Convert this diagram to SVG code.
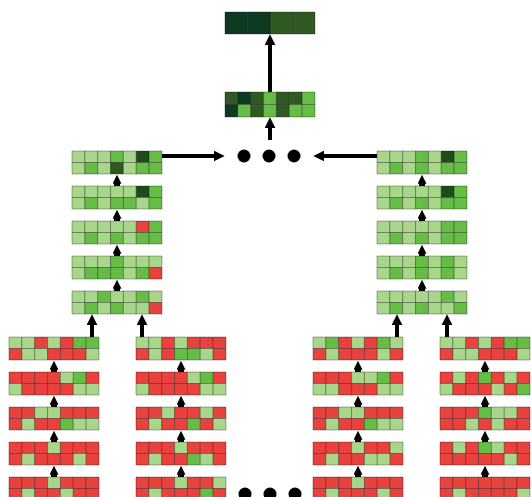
<svg xmlns="http://www.w3.org/2000/svg" width="531" height="497" viewBox="0 0 531 497">
<style>
.blk rect{width:1px;height:1px;stroke:#000;stroke-opacity:.3;stroke-width:1;vector-effect:non-scaling-stroke}
.L{fill:#a8d68a}.M{fill:#66bd46}.R{fill:#e8413e}.D{fill:#1e4a1c}.E{fill:#2c5a1e}.K{fill:#0d3b21}.O{fill:#2f5a22}
.con line{stroke:#000;fill:none}
.big{stroke-width:4}
.stub{stroke-width:6}
</style>
<defs>
<marker id="a" viewBox="0 0 10 10" refX="3" refY="5" markerWidth="11" markerHeight="11" markerUnits="userSpaceOnUse" orient="auto"><path d="M0,0L10,5L0,10z"/></marker>
<marker id="s" viewBox="0 0 10 10" refX="3" refY="5" markerWidth="9" markerHeight="9" markerUnits="userSpaceOnUse" orient="auto"><path d="M0,0L10,5L0,10z"/></marker>
</defs>
<rect width="531" height="497" fill="#fff"/>

<g id="out" class="blk" transform="translate(225 12) scale(22.5 22)">
<rect class="K" x="0" y="0"/><rect class="K" x="1" y="0"/><rect class="O" x="2" y="0"/><rect class="O" x="3" y="0"/>
</g>
<g id="agg" class="blk" transform="translate(225 92) scale(12.857 12.5)">
<rect class="O" x="0" y="0"/><rect class="K" x="1" y="0"/><rect class="O" x="2" y="0"/><rect class="M" x="3" y="0"/><rect class="O" x="4" y="0"/><rect class="O" x="5" y="0"/><rect class="M" x="6" y="0"/>
<rect class="K" x="0" y="1"/><rect class="M" x="1" y="1"/><rect class="O" x="2" y="1"/><rect class="M" x="3" y="1"/><rect class="O" x="4" y="1"/><rect class="M" x="5" y="1"/><rect class="M" x="6" y="1"/>
</g>

<g id="gl1" class="blk" transform="translate(72 151) scale(12.857 11.5)">
<rect class="L" x="0" y="0"/><rect class="L" x="1" y="0"/><rect class="L" x="2" y="0"/><rect class="M" x="3" y="0"/><rect class="L" x="4" y="0"/><rect class="D" x="5" y="0"/><rect class="M" x="6" y="0"/>
<rect class="L" x="0" y="1"/><rect class="M" x="1" y="1"/><rect class="L" x="2" y="1"/><rect class="E" x="3" y="1"/><rect class="L" x="4" y="1"/><rect class="M" x="5" y="1"/><rect class="M" x="6" y="1"/>
</g>
<g id="gl2" class="blk" transform="translate(72 186) scale(12.857 11.5)">
<rect class="L" x="0" y="0"/><rect class="L" x="1" y="0"/><rect class="L" x="2" y="0"/><rect class="L" x="3" y="0"/><rect class="L" x="4" y="0"/><rect class="D" x="5" y="0"/><rect class="M" x="6" y="0"/>
<rect class="L" x="0" y="1"/><rect class="M" x="1" y="1"/><rect class="L" x="2" y="1"/><rect class="M" x="3" y="1"/><rect class="M" x="4" y="1"/><rect class="L" x="5" y="1"/><rect class="M" x="6" y="1"/>
</g>
<g id="gl3" class="blk" transform="translate(72 221) scale(12.857 11.5)">
<rect class="L" x="0" y="0"/><rect class="L" x="1" y="0"/><rect class="L" x="2" y="0"/><rect class="L" x="3" y="0"/><rect class="L" x="4" y="0"/><rect class="R" x="5" y="0"/><rect class="M" x="6" y="0"/>
<rect class="L" x="0" y="1"/><rect class="M" x="1" y="1"/><rect class="L" x="2" y="1"/><rect class="M" x="3" y="1"/><rect class="L" x="4" y="1"/><rect class="M" x="5" y="1"/><rect class="M" x="6" y="1"/>
</g>
<g id="gl4" class="blk" transform="translate(72 256) scale(12.857 11.5)">
<rect class="L" x="0" y="0"/><rect class="L" x="1" y="0"/><rect class="L" x="2" y="0"/><rect class="M" x="3" y="0"/><rect class="L" x="4" y="0"/><rect class="L" x="5" y="0"/><rect class="L" x="6" y="0"/>
<rect class="L" x="0" y="1"/><rect class="M" x="1" y="1"/><rect class="M" x="2" y="1"/><rect class="M" x="3" y="1"/><rect class="L" x="4" y="1"/><rect class="M" x="5" y="1"/><rect class="R" x="6" y="1"/>
</g>
<g id="gl5" class="blk" transform="translate(72 291) scale(12.857 11.5)">
<rect class="L" x="0" y="0"/><rect class="L" x="1" y="0"/><rect class="M" x="2" y="0"/><rect class="L" x="3" y="0"/><rect class="L" x="4" y="0"/><rect class="M" x="5" y="0"/><rect class="L" x="6" y="0"/>
<rect class="L" x="0" y="1"/><rect class="M" x="1" y="1"/><rect class="L" x="2" y="1"/><rect class="M" x="3" y="1"/><rect class="L" x="4" y="1"/><rect class="L" x="5" y="1"/><rect class="R" x="6" y="1"/>
</g>

<g id="gr1" class="blk" transform="translate(377 151) scale(12.857 11.5)">
<rect class="L" x="0" y="0"/><rect class="L" x="1" y="0"/><rect class="L" x="2" y="0"/><rect class="M" x="3" y="0"/><rect class="L" x="4" y="0"/><rect class="D" x="5" y="0"/><rect class="M" x="6" y="0"/>
<rect class="L" x="0" y="1"/><rect class="M" x="1" y="1"/><rect class="L" x="2" y="1"/><rect class="M" x="3" y="1"/><rect class="L" x="4" y="1"/><rect class="M" x="5" y="1"/><rect class="M" x="6" y="1"/>
</g>
<g id="gr2" class="blk" transform="translate(377 186) scale(12.857 11.5)">
<rect class="L" x="0" y="0"/><rect class="L" x="1" y="0"/><rect class="L" x="2" y="0"/><rect class="L" x="3" y="0"/><rect class="L" x="4" y="0"/><rect class="D" x="5" y="0"/><rect class="M" x="6" y="0"/>
<rect class="L" x="0" y="1"/><rect class="M" x="1" y="1"/><rect class="L" x="2" y="1"/><rect class="M" x="3" y="1"/><rect class="L" x="4" y="1"/><rect class="M" x="5" y="1"/><rect class="M" x="6" y="1"/>
</g>
<g id="gr3" class="blk" transform="translate(377 221) scale(12.857 11.5)">
<rect class="L" x="0" y="0"/><rect class="L" x="1" y="0"/><rect class="L" x="2" y="0"/><rect class="L" x="3" y="0"/><rect class="L" x="4" y="0"/><rect class="M" x="5" y="0"/><rect class="M" x="6" y="0"/>
<rect class="L" x="0" y="1"/><rect class="M" x="1" y="1"/><rect class="L" x="2" y="1"/><rect class="M" x="3" y="1"/><rect class="L" x="4" y="1"/><rect class="M" x="5" y="1"/><rect class="M" x="6" y="1"/>
</g>
<g id="gr4" class="blk" transform="translate(377 256) scale(12.857 11.5)">
<rect class="L" x="0" y="0"/><rect class="L" x="1" y="0"/><rect class="L" x="2" y="0"/><rect class="M" x="3" y="0"/><rect class="L" x="4" y="0"/><rect class="M" x="5" y="0"/><rect class="L" x="6" y="0"/>
<rect class="L" x="0" y="1"/><rect class="M" x="1" y="1"/><rect class="L" x="2" y="1"/><rect class="M" x="3" y="1"/><rect class="L" x="4" y="1"/><rect class="M" x="5" y="1"/><rect class="L" x="6" y="1"/>
</g>
<g id="gr5" class="blk" transform="translate(377 291) scale(12.857 11.5)">
<rect class="L" x="0" y="0"/><rect class="L" x="1" y="0"/><rect class="L" x="2" y="0"/><rect class="L" x="3" y="0"/><rect class="L" x="4" y="0"/><rect class="M" x="5" y="0"/><rect class="L" x="6" y="0"/>
<rect class="L" x="0" y="1"/><rect class="M" x="1" y="1"/><rect class="L" x="2" y="1"/><rect class="M" x="3" y="1"/><rect class="L" x="4" y="1"/><rect class="L" x="5" y="1"/><rect class="M" x="6" y="1"/>
</g>

<g id="b11" class="blk" transform="translate(9 337) scale(12.857 11.5)">
<rect class="L" x="0" y="0"/><rect class="L" x="1" y="0"/><rect class="R" x="2" y="0"/><rect class="L" x="3" y="0"/><rect class="R" x="4" y="0"/><rect class="M" x="5" y="0"/><rect class="M" x="6" y="0"/>
<rect class="R" x="0" y="1"/><rect class="L" x="1" y="1"/><rect class="L" x="2" y="1"/><rect class="R" x="3" y="1"/><rect class="R" x="4" y="1"/><rect class="R" x="5" y="1"/><rect class="L" x="6" y="1"/>
</g>
<g id="b12" class="blk" transform="translate(9 372) scale(12.857 11.5)">
<rect class="R" x="0" y="0"/><rect class="R" x="1" y="0"/><rect class="R" x="2" y="0"/><rect class="R" x="3" y="0"/><rect class="L" x="4" y="0"/><rect class="M" x="5" y="0"/><rect class="R" x="6" y="0"/>
<rect class="L" x="0" y="1"/><rect class="R" x="1" y="1"/><rect class="R" x="2" y="1"/><rect class="R" x="3" y="1"/><rect class="R" x="4" y="1"/><rect class="L" x="5" y="1"/><rect class="L" x="6" y="1"/>
</g>
<g id="b13" class="blk" transform="translate(9 407) scale(12.857 11.5)">
<rect class="R" x="0" y="0"/><rect class="R" x="1" y="0"/><rect class="L" x="2" y="0"/><rect class="L" x="3" y="0"/><rect class="R" x="4" y="0"/><rect class="R" x="5" y="0"/><rect class="R" x="6" y="0"/>
<rect class="R" x="0" y="1"/><rect class="L" x="1" y="1"/><rect class="R" x="2" y="1"/><rect class="R" x="3" y="1"/><rect class="M" x="4" y="1"/><rect class="L" x="5" y="1"/><rect class="L" x="6" y="1"/>
</g>
<g id="b14" class="blk" transform="translate(9 442) scale(12.857 11.5)">
<rect class="R" x="0" y="0"/><rect class="R" x="1" y="0"/><rect class="R" x="2" y="0"/><rect class="L" x="3" y="0"/><rect class="R" x="4" y="0"/><rect class="R" x="5" y="0"/><rect class="R" x="6" y="0"/>
<rect class="R" x="0" y="1"/><rect class="L" x="1" y="1"/><rect class="R" x="2" y="1"/><rect class="R" x="3" y="1"/><rect class="R" x="4" y="1"/><rect class="L" x="5" y="1"/><rect class="R" x="6" y="1"/>
</g>
<g id="b15" class="blk" transform="translate(9 477) scale(12.857 11.5)">
<rect class="R" x="0" y="0"/><rect class="R" x="1" y="0"/><rect class="R" x="2" y="0"/><rect class="L" x="3" y="0"/><rect class="R" x="4" y="0"/><rect class="R" x="5" y="0"/><rect class="R" x="6" y="0"/>
<rect class="R" x="0" y="1"/><rect class="L" x="1" y="1"/><rect class="R" x="2" y="1"/><rect class="R" x="3" y="1"/><rect class="L" x="4" y="1"/><rect class="R" x="5" y="1"/><rect class="R" x="6" y="1"/>
</g>

<g id="b21" class="blk" transform="translate(136 337) scale(12.857 11.5)">
<rect class="L" x="0" y="0"/><rect class="L" x="1" y="0"/><rect class="R" x="2" y="0"/><rect class="L" x="3" y="0"/><rect class="R" x="4" y="0"/><rect class="R" x="5" y="0"/><rect class="R" x="6" y="0"/>
<rect class="R" x="0" y="1"/><rect class="L" x="1" y="1"/><rect class="R" x="2" y="1"/><rect class="M" x="3" y="1"/><rect class="M" x="4" y="1"/><rect class="L" x="5" y="1"/><rect class="R" x="6" y="1"/>
</g>
<g id="b22" class="blk" transform="translate(136 372) scale(12.857 11.5)">
<rect class="R" x="0" y="0"/><rect class="R" x="1" y="0"/><rect class="R" x="2" y="0"/><rect class="R" x="3" y="0"/><rect class="L" x="4" y="0"/><rect class="M" x="5" y="0"/><rect class="R" x="6" y="0"/>
<rect class="L" x="0" y="1"/><rect class="R" x="1" y="1"/><rect class="R" x="2" y="1"/><rect class="R" x="3" y="1"/><rect class="R" x="4" y="1"/><rect class="L" x="5" y="1"/><rect class="L" x="6" y="1"/>
</g>
<g id="b23" class="blk" transform="translate(136 407) scale(12.857 11.5)">
<rect class="R" x="0" y="0"/><rect class="R" x="1" y="0"/><rect class="L" x="2" y="0"/><rect class="R" x="3" y="0"/><rect class="R" x="4" y="0"/><rect class="L" x="5" y="0"/><rect class="R" x="6" y="0"/>
<rect class="R" x="0" y="1"/><rect class="L" x="1" y="1"/><rect class="R" x="2" y="1"/><rect class="R" x="3" y="1"/><rect class="M" x="4" y="1"/><rect class="R" x="5" y="1"/><rect class="L" x="6" y="1"/>
</g>
<g id="b24" class="blk" transform="translate(136 442) scale(12.857 11.5)">
<rect class="R" x="0" y="0"/><rect class="R" x="1" y="0"/><rect class="R" x="2" y="0"/><rect class="L" x="3" y="0"/><rect class="R" x="4" y="0"/><rect class="R" x="5" y="0"/><rect class="R" x="6" y="0"/>
<rect class="R" x="0" y="1"/><rect class="L" x="1" y="1"/><rect class="R" x="2" y="1"/><rect class="R" x="3" y="1"/><rect class="M" x="4" y="1"/><rect class="L" x="5" y="1"/><rect class="R" x="6" y="1"/>
</g>
<g id="b25" class="blk" transform="translate(136 477) scale(12.857 11.5)">
<rect class="R" x="0" y="0"/><rect class="R" x="1" y="0"/><rect class="R" x="2" y="0"/><rect class="L" x="3" y="0"/><rect class="R" x="4" y="0"/><rect class="R" x="5" y="0"/><rect class="L" x="6" y="0"/>
<rect class="R" x="0" y="1"/><rect class="L" x="1" y="1"/><rect class="R" x="2" y="1"/><rect class="R" x="3" y="1"/><rect class="R" x="4" y="1"/><rect class="M" x="5" y="1"/><rect class="R" x="6" y="1"/>
</g>

<g id="b31" class="blk" transform="translate(313 337) scale(12.857 11.5)">
<rect class="L" x="0" y="0"/><rect class="M" x="1" y="0"/><rect class="R" x="2" y="0"/><rect class="L" x="3" y="0"/><rect class="R" x="4" y="0"/><rect class="M" x="5" y="0"/><rect class="L" x="6" y="0"/>
<rect class="R" x="0" y="1"/><rect class="L" x="1" y="1"/><rect class="R" x="2" y="1"/><rect class="R" x="3" y="1"/><rect class="R" x="4" y="1"/><rect class="L" x="5" y="1"/><rect class="R" x="6" y="1"/>
</g>
<g id="b32" class="blk" transform="translate(313 372) scale(12.857 11.5)">
<rect class="R" x="0" y="0"/><rect class="R" x="1" y="0"/><rect class="R" x="2" y="0"/><rect class="L" x="3" y="0"/><rect class="L" x="4" y="0"/><rect class="M" x="5" y="0"/><rect class="R" x="6" y="0"/>
<rect class="L" x="0" y="1"/><rect class="L" x="1" y="1"/><rect class="R" x="2" y="1"/><rect class="R" x="3" y="1"/><rect class="R" x="4" y="1"/><rect class="L" x="5" y="1"/><rect class="L" x="6" y="1"/>
</g>
<g id="b33" class="blk" transform="translate(313 407) scale(12.857 11.5)">
<rect class="R" x="0" y="0"/><rect class="R" x="1" y="0"/><rect class="L" x="2" y="0"/><rect class="L" x="3" y="0"/><rect class="R" x="4" y="0"/><rect class="R" x="5" y="0"/><rect class="R" x="6" y="0"/>
<rect class="R" x="0" y="1"/><rect class="L" x="1" y="1"/><rect class="R" x="2" y="1"/><rect class="R" x="3" y="1"/><rect class="M" x="4" y="1"/><rect class="L" x="5" y="1"/><rect class="L" x="6" y="1"/>
</g>
<g id="b34" class="blk" transform="translate(313 442) scale(12.857 11.5)">
<rect class="R" x="0" y="0"/><rect class="R" x="1" y="0"/><rect class="R" x="2" y="0"/><rect class="L" x="3" y="0"/><rect class="R" x="4" y="0"/><rect class="R" x="5" y="0"/><rect class="L" x="6" y="0"/>
<rect class="R" x="0" y="1"/><rect class="L" x="1" y="1"/><rect class="R" x="2" y="1"/><rect class="R" x="3" y="1"/><rect class="L" x="4" y="1"/><rect class="L" x="5" y="1"/><rect class="R" x="6" y="1"/>
</g>
<g id="b35" class="blk" transform="translate(313 477) scale(12.857 11.5)">
<rect class="R" x="0" y="0"/><rect class="R" x="1" y="0"/><rect class="R" x="2" y="0"/><rect class="L" x="3" y="0"/><rect class="R" x="4" y="0"/><rect class="R" x="5" y="0"/><rect class="R" x="6" y="0"/>
<rect class="R" x="0" y="1"/><rect class="L" x="1" y="1"/><rect class="R" x="2" y="1"/><rect class="R" x="3" y="1"/><rect class="R" x="4" y="1"/><rect class="L" x="5" y="1"/><rect class="R" x="6" y="1"/>
</g>

<g id="b41" class="blk" transform="translate(440 337) scale(12.857 11.5)">
<rect class="L" x="0" y="0"/><rect class="L" x="1" y="0"/><rect class="R" x="2" y="0"/><rect class="L" x="3" y="0"/><rect class="R" x="4" y="0"/><rect class="M" x="5" y="0"/><rect class="M" x="6" y="0"/>
<rect class="R" x="0" y="1"/><rect class="L" x="1" y="1"/><rect class="L" x="2" y="1"/><rect class="R" x="3" y="1"/><rect class="R" x="4" y="1"/><rect class="R" x="5" y="1"/><rect class="L" x="6" y="1"/>
</g>
<g id="b42" class="blk" transform="translate(440 372) scale(12.857 11.5)">
<rect class="R" x="0" y="0"/><rect class="L" x="1" y="0"/><rect class="R" x="2" y="0"/><rect class="M" x="3" y="0"/><rect class="R" x="4" y="0"/><rect class="L" x="5" y="0"/><rect class="R" x="6" y="0"/>
<rect class="L" x="0" y="1"/><rect class="R" x="1" y="1"/><rect class="R" x="2" y="1"/><rect class="R" x="3" y="1"/><rect class="L" x="4" y="1"/><rect class="R" x="5" y="1"/><rect class="M" x="6" y="1"/>
</g>
<g id="b43" class="blk" transform="translate(440 407) scale(12.857 11.5)">
<rect class="R" x="0" y="0"/><rect class="R" x="1" y="0"/><rect class="R" x="2" y="0"/><rect class="M" x="3" y="0"/><rect class="L" x="4" y="0"/><rect class="L" x="5" y="0"/><rect class="R" x="6" y="0"/>
<rect class="R" x="0" y="1"/><rect class="R" x="1" y="1"/><rect class="L" x="2" y="1"/><rect class="R" x="3" y="1"/><rect class="L" x="4" y="1"/><rect class="R" x="5" y="1"/><rect class="R" x="6" y="1"/>
</g>
<g id="b44" class="blk" transform="translate(440 442) scale(12.857 11.5)">
<rect class="R" x="0" y="0"/><rect class="L" x="1" y="0"/><rect class="R" x="2" y="0"/><rect class="M" x="3" y="0"/><rect class="L" x="4" y="0"/><rect class="R" x="5" y="0"/><rect class="R" x="6" y="0"/>
<rect class="R" x="0" y="1"/><rect class="R" x="1" y="1"/><rect class="R" x="2" y="1"/><rect class="R" x="3" y="1"/><rect class="R" x="4" y="1"/><rect class="L" x="5" y="1"/><rect class="R" x="6" y="1"/>
</g>
<g id="b45" class="blk" transform="translate(440 477) scale(12.857 11.5)">
<rect class="R" x="0" y="0"/><rect class="R" x="1" y="0"/><rect class="R" x="2" y="0"/><rect class="R" x="3" y="0"/><rect class="R" x="4" y="0"/><rect class="R" x="5" y="0"/><rect class="R" x="6" y="0"/>
<rect class="R" x="0" y="1"/><rect class="L" x="1" y="1"/><rect class="R" x="2" y="1"/><rect class="R" x="3" y="1"/><rect class="R" x="4" y="1"/><rect class="R" x="5" y="1"/><rect class="L" x="6" y="1"/>
</g>

<g id="dots-top" fill="#000">
<circle cx="244" cy="156" r="6.5"/><circle cx="269" cy="156" r="6.5"/><circle cx="294" cy="156" r="6.5"/>
</g>
<g id="dots-bottom" fill="#000">
<circle cx="245" cy="494" r="6.5"/><circle cx="270" cy="494" r="6.5"/><circle cx="295" cy="494" r="6.5"/>
</g>

<g id="connectors" class="con">
<line class="big" x1="270" y1="92" x2="270" y2="42" marker-end="url(#a)"/>
<line class="big" x1="270" y1="140" x2="270" y2="125" marker-end="url(#a)"/>
<line class="big" x1="162" y1="156" x2="217" y2="156" marker-end="url(#a)"/>
<line class="big" x1="377" y1="156" x2="321" y2="156" marker-end="url(#a)"/>

<line class="stub" x1="117" y1="186" x2="117" y2="181" marker-end="url(#s)"/>
<line class="stub" x1="117" y1="221" x2="117" y2="216" marker-end="url(#s)"/>
<line class="stub" x1="117" y1="256" x2="117" y2="251" marker-end="url(#s)"/>
<line class="stub" x1="117" y1="291" x2="117" y2="286" marker-end="url(#s)"/>
<line class="stub" x1="422" y1="186" x2="422" y2="181" marker-end="url(#s)"/>
<line class="stub" x1="422" y1="221" x2="422" y2="216" marker-end="url(#s)"/>
<line class="stub" x1="422" y1="256" x2="422" y2="251" marker-end="url(#s)"/>
<line class="stub" x1="422" y1="291" x2="422" y2="286" marker-end="url(#s)"/>

<line class="big" x1="92" y1="337" x2="92" y2="322" marker-end="url(#a)"/>
<line class="big" x1="142" y1="337" x2="142" y2="322" marker-end="url(#a)"/>
<line class="big" x1="397" y1="337" x2="397" y2="322" marker-end="url(#a)"/>
<line class="big" x1="447" y1="337" x2="447" y2="322" marker-end="url(#a)"/>

<line class="stub" x1="54" y1="372" x2="54" y2="367" marker-end="url(#s)"/>
<line class="stub" x1="54" y1="407" x2="54" y2="402" marker-end="url(#s)"/>
<line class="stub" x1="54" y1="442" x2="54" y2="437" marker-end="url(#s)"/>
<line class="stub" x1="54" y1="477" x2="54" y2="472" marker-end="url(#s)"/>
<line class="stub" x1="181" y1="372" x2="181" y2="367" marker-end="url(#s)"/>
<line class="stub" x1="181" y1="407" x2="181" y2="402" marker-end="url(#s)"/>
<line class="stub" x1="181" y1="442" x2="181" y2="437" marker-end="url(#s)"/>
<line class="stub" x1="181" y1="477" x2="181" y2="472" marker-end="url(#s)"/>
<line class="stub" x1="358" y1="372" x2="358" y2="367" marker-end="url(#s)"/>
<line class="stub" x1="358" y1="407" x2="358" y2="402" marker-end="url(#s)"/>
<line class="stub" x1="358" y1="442" x2="358" y2="437" marker-end="url(#s)"/>
<line class="stub" x1="358" y1="477" x2="358" y2="472" marker-end="url(#s)"/>
<line class="stub" x1="485" y1="372" x2="485" y2="367" marker-end="url(#s)"/>
<line class="stub" x1="485" y1="407" x2="485" y2="402" marker-end="url(#s)"/>
<line class="stub" x1="485" y1="442" x2="485" y2="437" marker-end="url(#s)"/>
<line class="stub" x1="485" y1="477" x2="485" y2="472" marker-end="url(#s)"/>
</g>
</svg>
